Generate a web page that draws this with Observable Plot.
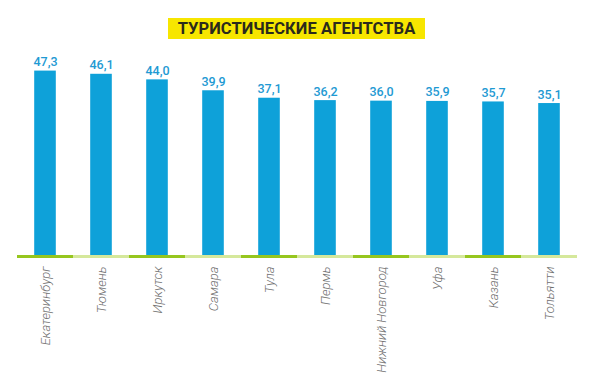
<!DOCTYPE html>
<html>
<head>
<meta charset="utf-8">
<script src="https://cdn.jsdelivr.net/npm/d3@7"></script>
<script src="https://cdn.jsdelivr.net/npm/@observablehq/plot@0.6"></script>
<style>
  html, body { margin: 0; padding: 0; background: #fff; }
  #wrap { position: relative; width: 600px; height: 381px; overflow: hidden; }
  #title {
    position: absolute; left: 168px; top: 18px; width: 257px; height: 21px;
    background: #f7e600; color: #2b2a1c;
    font: 700 16.5px Roboto, "DejaVu Sans", sans-serif;
    text-align: center; line-height: 21px; white-space: nowrap; letter-spacing: 0.1px;
  }
  #chart { position: absolute; left: 0; top: 0; }
</style>
</head>
<body>
<div id="wrap">
  <div id="chart"></div>
  <div id="title">ТУРИСТИЧЕСКИЕ АГЕНТСТВА</div>
</div>
<script>
const cities = ["Екатеринбург", "Тюмень", "Иркутск", "Самара", "Тула", "Пермь", "Нижний Новгород", "Уфа", "Казань", "Тольятти"];
const values = [47.3, 46.1, 44.0, 39.9, 37.1, 36.2, 36.0, 35.9, 35.7, 35.1];

const data = cities.map((city, i) => ({city, value: values[i], i}));
const yBase = -22.4;
const yTop = 58.8;

const chart = Plot.plot({
  width: 600,
  height: 381,
  marginLeft: 15,
  marginRight: 21,
  marginTop: 40,
  marginBottom: 125,
  style: {background: "transparent"},
  x: {domain: cities, padding: 0, label: null},
  y: {domain: [yBase, yTop], axis: null},
  marks: [
    Plot.barY(data, {x: "city", y1: yBase, y2: "value", fill: "#0ea1d9", insetLeft: 17.2, insetRight: 17.2}),
    Plot.tickY(data, {x: "city", y: yBase, stroke: d => d.i % 2 === 0 ? "#96c61e" : "#d5e89b", strokeWidth: 3}),
    Plot.text(data, {
      x: "city", y: "value",
      text: d => d.value.toFixed(1).replace(".", ","),
      lineAnchor: "bottom", dy: -5,
      fill: "#1f9ad3", fontSize: 12.5, fontWeight: 500,
      fontFamily: "Roboto, sans-serif"
    }),
    Plot.axisX({
      tickSize: 0, tickPadding: 10, tickRotate: -90,
      fill: "#707070", fontSize: 13, fontStyle: "italic",
      fontFamily: "Roboto, sans-serif", fontWeight: 300, label: null
    })
  ]
});
document.getElementById("chart").appendChild(chart);
</script>
</body>
</html>
